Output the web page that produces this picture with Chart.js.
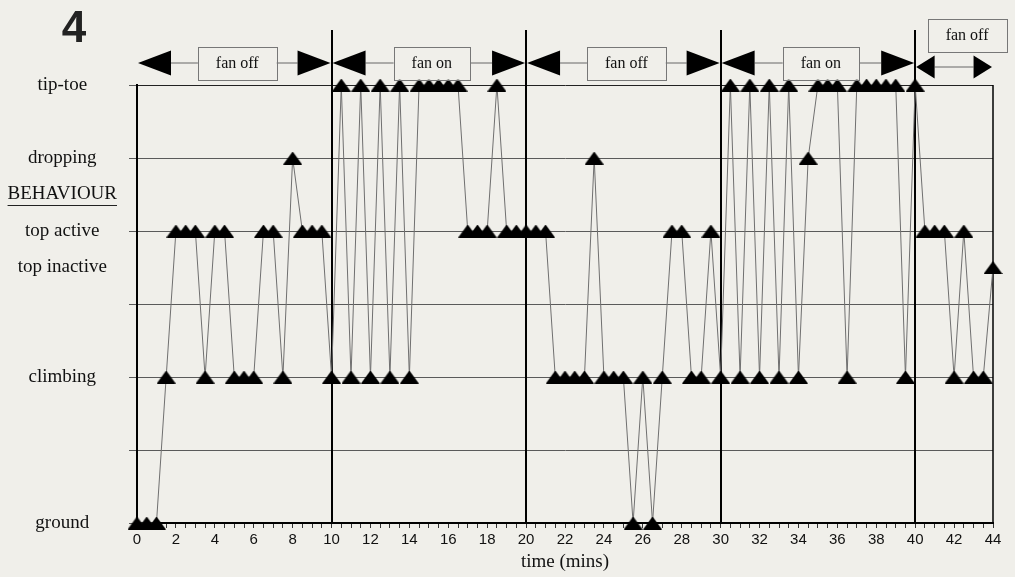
<!DOCTYPE html>
<html>
<head>
<meta charset="utf-8">
<script src="https://cdn.jsdelivr.net/npm/chart.js@4.4.1/dist/chart.umd.min.js"></script>
<style>
  html, body { margin: 0; padding: 0; background: #f0efea; }
  #wrap { width: 1015px; height: 577px; }
</style>
</head>
<body>
<div id="wrap"><canvas id="chart" width="1015" height="577"></canvas></div>
<script>
'use strict';

// ── Data ───────────────────────────────────────────────────────
const TIMES = [
  0, 0.5, 1, 1.5, 2, 2.5, 3, 3.5, 4, 4.5, 5, 5.5, 6, 6.5, 7, 7.5, 8, 8.5, 9, 9.5,
  10, 10.5, 11, 11.5, 12, 12.5, 13, 13.5, 14, 14.5, 15, 15.5, 16, 16.5, 17, 17.5, 18, 18.5, 19, 19.5,
  20, 20.5, 21, 21.5, 22, 22.5, 23, 23.5, 24, 24.5, 25, 25.5, 26, 26.5, 27, 27.5, 28, 28.5, 29, 29.5,
  30, 30.5, 31, 31.5, 32, 32.5, 33, 33.5, 34, 34.5, 35, 35.5, 36, 36.5, 37, 37.5, 38, 38.5, 39, 39.5,
  40, 40.5, 41, 41.5, 42, 42.5, 43, 43.5, 44,
];
// 0 ground, 2 climbing, 3.5 top inactive, 4 top active, 5 dropping, 6 tip-toe
const BEHAVIOUR = [
  0, 0, 0, 2, 4, 4, 4, 2, 4, 4, 2, 2, 2, 4, 4, 2, 5, 4, 4, 4,
  2, 6, 2, 6, 2, 6, 2, 6, 2, 6, 6, 6, 6, 6, 4, 4, 4, 6, 4, 4,
  4, 4, 4, 2, 2, 2, 2, 5, 2, 2, 2, 0, 2, 0, 2, 4, 4, 2, 2, 4,
  2, 6, 2, 6, 2, 6, 2, 6, 2, 5, 6, 6, 6, 2, 6, 6, 6, 6, 6, 2,
  6, 4, 4, 4, 2, 4, 2, 2, 3.5,
];

const LEVEL_VALUES = [0, 1, 2, 3, 3.5, 4, 4.5, 5, 6];
const LEVEL_NAMES  = ['ground', '', 'climbing', '', 'top inactive', 'top active', 'BEHAVIOUR', 'dropping', 'tip-toe'];
const X_TICK_LABELS = [0, 2, 4, 6, 8, 10, 12, 14, 16, 18, 20, 22, 24, 26, 28, 30, 32, 34, 36, 38, 40, 42, 44];

const FAN_STARTS = [0, 10, 20, 30, 40];
const FAN_ENDS   = [10, 20, 30, 40, 44];
const FAN_LABELS = ['fan off', 'fan on', 'fan off', 'fan on', 'fan off'];

// ── Style ──────────────────────────────────────────────────────
const BG     = '#f0efea';
const SERIF  = "'Liberation Serif', 'Times New Roman', serif";
const SANS   = "'Liberation Sans', Arial, sans-serif";
const GRID_C = '#5a5a5a';
const Y_TICK_LEN = 8;
const Y_PAD      = 12;

function trianglePoint(w, h) {
  const c = document.createElement('canvas');
  c.width = w;
  c.height = h;
  const g = c.getContext('2d');
  g.fillStyle = '#000';
  g.beginPath();
  g.moveTo(w / 2, 0);
  g.lineTo(w, h);
  g.lineTo(0, h);
  g.closePath();
  g.fill();
  return c;
}

function arrowHead(ctx, tipX, baseX, y, h) {
  ctx.beginPath();
  ctx.moveTo(tipX, y);
  ctx.lineTo(baseX, y - h / 2);
  ctx.lineTo(baseX, y + h / 2);
  ctx.closePath();
  ctx.fill();
}

// ── Plugins ────────────────────────────────────────────────────
const background = {
  id: 'background',
  beforeDraw(chart) {
    const { ctx, width, height } = chart;
    ctx.save();
    ctx.fillStyle = BG;
    ctx.fillRect(0, 0, width, height);
    ctx.restore();
  },
};

const fanPeriods = {
  id: 'fanPeriods',
  beforeDatasetsDraw(chart) {
    const { ctx, chartArea: a, scales: { x } } = chart;
    ctx.save();
    // right frame
    ctx.strokeStyle = '#000';
    ctx.lineWidth = 1.5;
    ctx.beginPath();
    ctx.moveTo(a.right, a.top);
    ctx.lineTo(a.right, a.bottom);
    ctx.stroke();
    // period boundaries
    ctx.lineWidth = 2;
    FAN_STARTS.forEach(s => {
      if (s === x.min) return;
      const px = Math.round(x.getPixelForValue(s));
      ctx.beginPath();
      ctx.moveTo(px, a.bottom);
      ctx.lineTo(px, 30);
      ctx.stroke();
    });
    ctx.restore();
  },
  afterDraw(chart) {
    const { ctx, scales: { x } } = chart;
    const rowY = 63;
    ctx.save();
    ctx.font = `16px ${SERIF}`;
    ctx.textAlign = 'center';
    ctx.textBaseline = 'middle';
    FAN_STARTS.forEach((s, i) => {
      const x0 = x.getPixelForValue(s);
      const x1 = x.getPixelForValue(FAN_ENDS[i]);
      const w = x1 - x0;
      const len = Math.min(34, w * 0.25);
      const h = w > 150 ? 25 : 23;
      const y = w > 150 ? rowY : rowY + 4;
      // connector
      ctx.strokeStyle = '#666';
      ctx.lineWidth = 1;
      ctx.beginPath();
      ctx.moveTo(x0 + len, y);
      ctx.lineTo(x1 - len, y);
      ctx.stroke();
      // heads
      ctx.fillStyle = '#000';
      arrowHead(ctx, x0 + 1, x0 + len, y, h);
      arrowHead(ctx, x1 - 1, x1 - len, y, h);
      // label box
      const tw = ctx.measureText(FAN_LABELS[i]).width;
      const bw = tw + 36;
      const bh = 33;
      let cx = (x0 + x1) / 2 + 3;
      let cy = y;
      if (w < bw + 2 * len + 20) {
        cx = (x0 + x1) / 2 + 13;
        cy = 35;
      }
      ctx.fillStyle = BG;
      ctx.fillRect(cx - bw / 2, cy - bh / 2, bw, bh);
      ctx.strokeStyle = '#777';
      ctx.strokeRect(Math.round(cx - bw / 2) + 0.5, Math.round(cy - bh / 2) + 0.5, Math.round(bw), bh);
      ctx.fillStyle = '#111';
      ctx.fillText(FAN_LABELS[i], cx, cy + 1);
    });

    // panel number
    ctx.font = `bold 44px ${SANS}`;
    ctx.fillStyle = '#222';
    ctx.fillText('4', 74, 30);

    // underline the axis heading
    const yS = chart.scales.y;
    ctx.font = `19px ${SERIF}`;
    const widest = Math.max(...LEVEL_NAMES.map(t => ctx.measureText(t).width));
    const cxLab = yS.right - Y_TICK_LEN - Y_PAD - widest / 2;
    const yb = yS.getPixelForValue(4.5) + 10;
    const bw = ctx.measureText('BEHAVIOUR').width;
    ctx.strokeStyle = '#222';
    ctx.lineWidth = 1;
    ctx.beginPath();
    ctx.moveTo(cxLab - bw / 2, Math.round(yb) + 0.5);
    ctx.lineTo(cxLab + bw / 2, Math.round(yb) + 0.5);
    ctx.stroke();
    ctx.restore();
  },
};

// ── Chart ──────────────────────────────────────────────────────
Chart.defaults.animation = false;

new Chart(document.getElementById('chart').getContext('2d'), {
  type: 'line',
  data: {
    datasets: [{
      label: 'behaviour',
      data: TIMES.map((t, i) => ({ x: t, y: BEHAVIOUR[i] })),
      borderColor: '#707070',
      borderWidth: 1,
      tension: 0,
      pointStyle: trianglePoint(19, 13),
      pointRadius: 7,
      pointHoverRadius: 7,
      pointBackgroundColor: '#000',
      clip: false,
    }],
  },
  options: {
    responsive: false,
    devicePixelRatio: 1,
    events: [],
    layout: { padding: { top: 85, right: 22, bottom: 0, left: 0 } },
    plugins: {
      legend: { display: false },
      tooltip: { enabled: false },
    },
    scales: {
      x: {
        type: 'linear',
        min: 0,
        max: 44,
        afterFit: s => { s.height = 54; },
        border: { display: true, color: '#000', width: 2 },
        grid: {
          drawOnChartArea: false,
          drawTicks: true,
          tickLength: 5,
          tickColor: '#333',
          tickWidth: 1,
        },
        ticks: {
          stepSize: 0.5,
          autoSkip: false,
          maxRotation: 0,
          padding: 3,
          color: '#111',
          font: { family: SANS, size: 15 },
          callback: v => (X_TICK_LABELS.includes(v) ? String(v) : ''),
        },
        title: {
          display: true,
          text: 'time (mins)',
          color: '#111',
          font: { family: SERIF, size: 19 },
          padding: { top: 0, bottom: 4 },
        },
      },
      y: {
        type: 'linear',
        min: 0,
        max: 6,
        afterFit: s => { s.width = 137; },
        afterBuildTicks: s => { s.ticks = LEVEL_VALUES.map(v => ({ value: v })); },
        border: { display: true, color: '#000', width: 2 },
        grid: {
          color: c => (Number.isInteger(c.tick.value) ? (c.tick.value === 6 ? '#222' : GRID_C) : 'rgba(0,0,0,0)'),
          tickColor: c => (Number.isInteger(c.tick.value) ? GRID_C : 'rgba(0,0,0,0)'),
          lineWidth: 1,
          tickLength: Y_TICK_LEN,
        },
        ticks: {
          autoSkip: false,
          crossAlign: 'center',
          padding: Y_PAD,
          color: '#111',
          font: { family: SERIF, size: 19 },
          callback: v => LEVEL_NAMES[LEVEL_VALUES.indexOf(v)] || '',
        },
      },
    },
  },
  plugins: [background, fanPeriods],
});
</script>
</body>
</html>
